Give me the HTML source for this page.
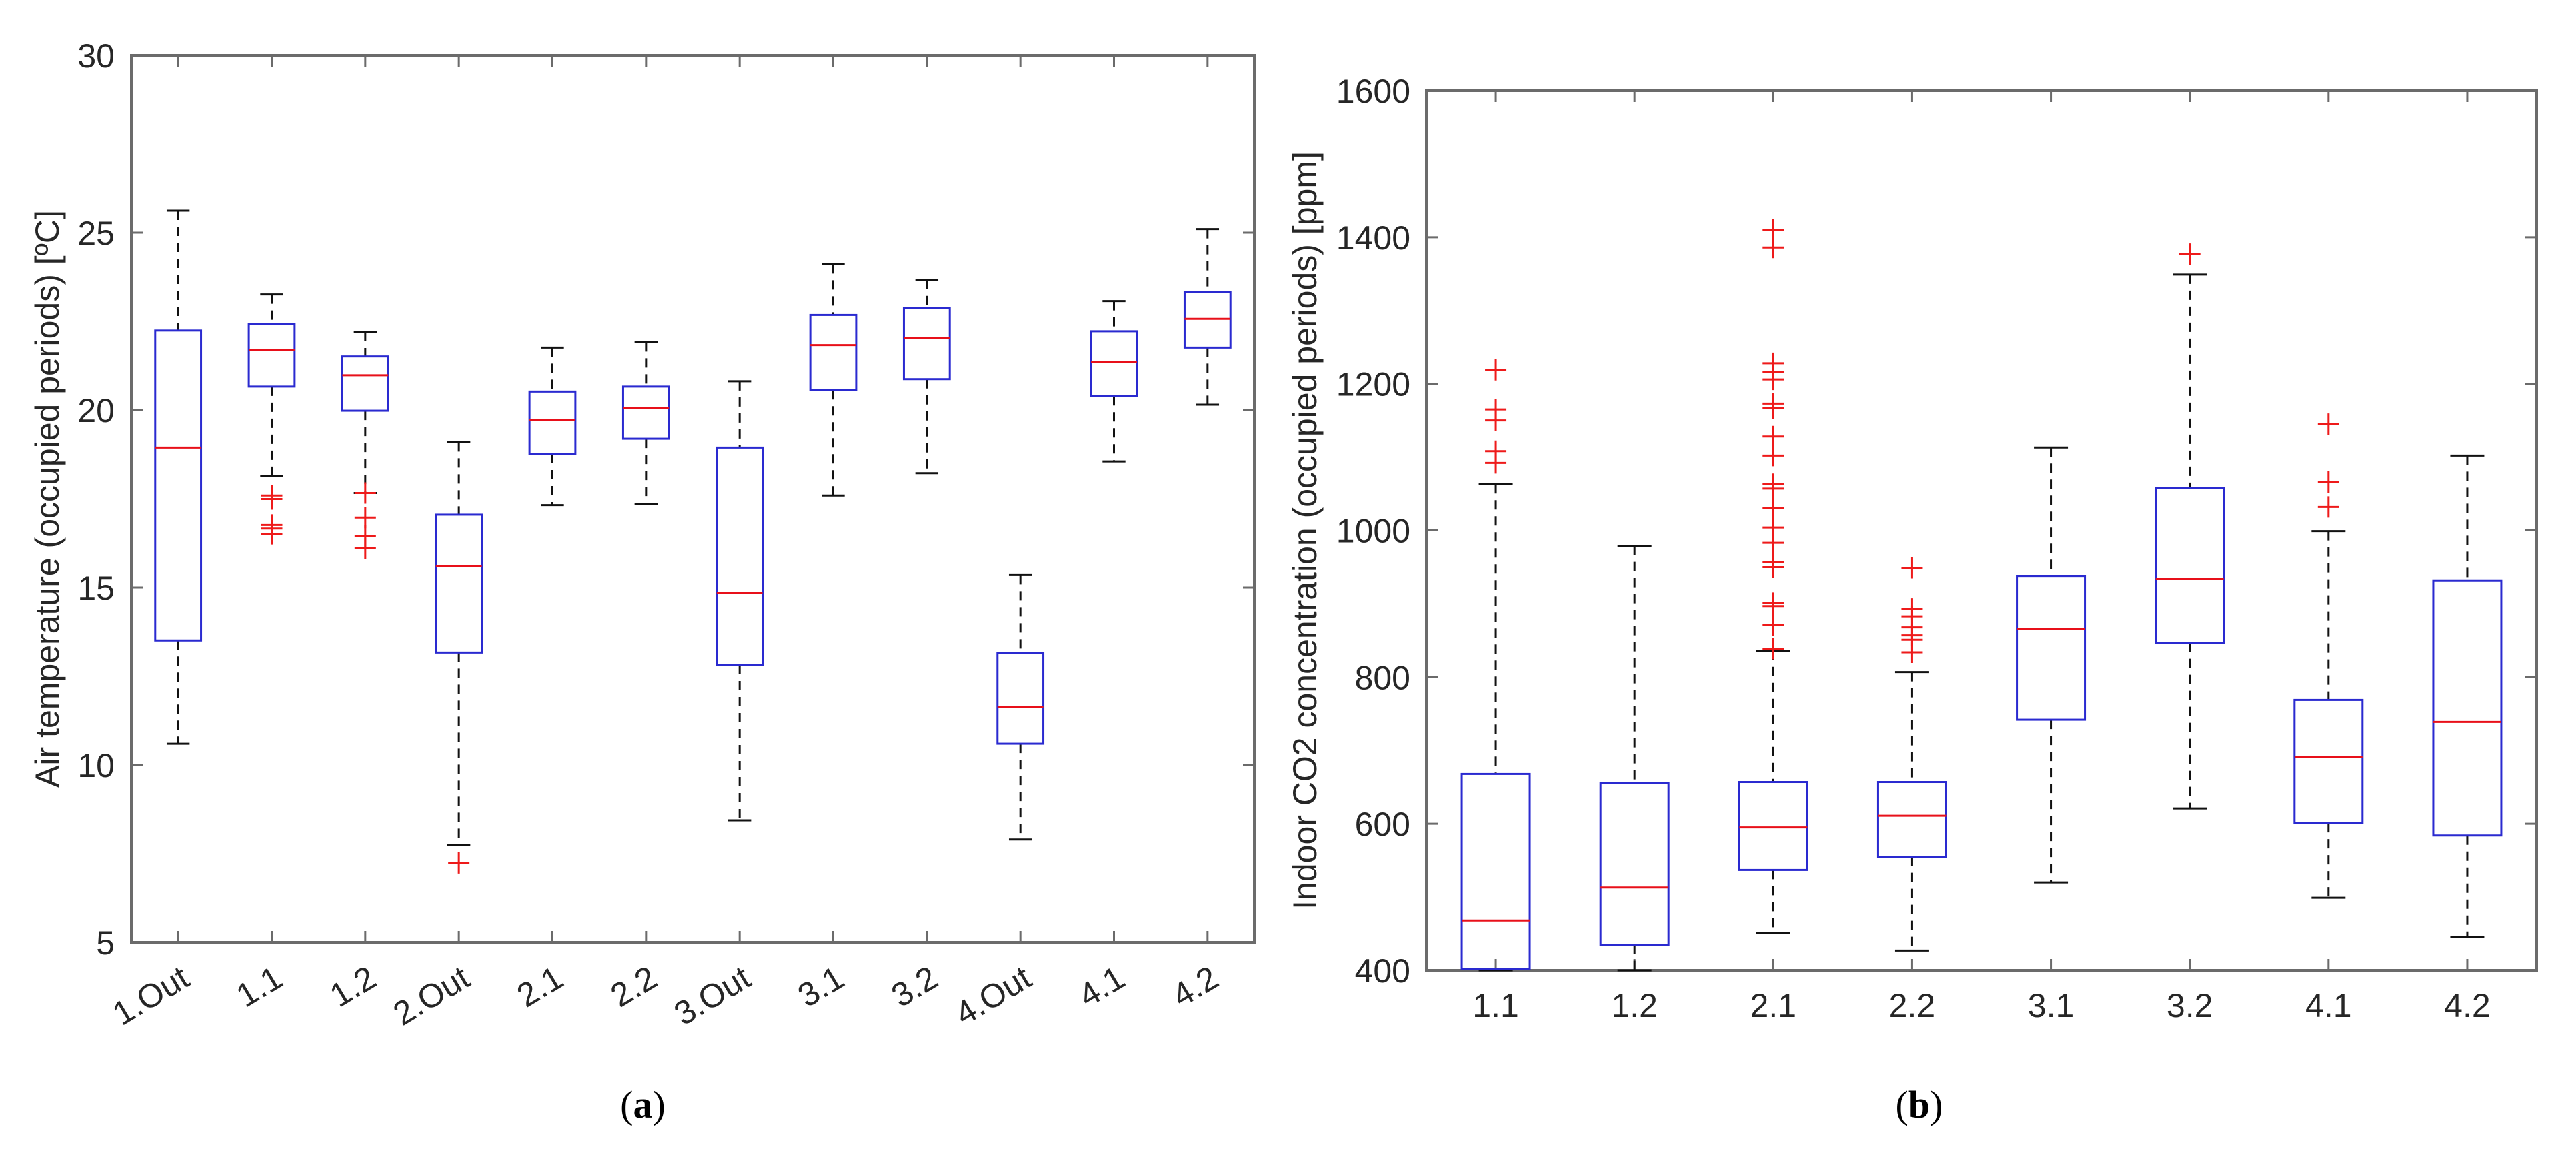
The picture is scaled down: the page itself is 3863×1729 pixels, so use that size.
<!DOCTYPE html>
<html><head><meta charset="utf-8">
<style>
html,body{margin:0;padding:0;background:#fff;}
svg{display:block;}
text{font-family:"Liberation Sans",sans-serif;fill:#262626;}
.cap{font-family:"Liberation Serif",serif;fill:#000;}
</style></head>
<body>
<svg id="chart" width="3863" height="1729" viewBox="0 0 3863 1729" xmlns="http://www.w3.org/2000/svg">
<g id="pa"></g>
<g id="pb"></g>
<text class="cap" x="964" y="1676" font-size="58" text-anchor="middle">(<tspan font-weight="bold">a</tspan>)</text>
<text class="cap" x="2878" y="1676" font-size="58" text-anchor="middle">(<tspan font-weight="bold">b</tspan>)</text>
</svg>
<script>
// Panel A data (air temperature, °C)
const catsA = ["1.Out","1.1","1.2","2.Out","2.1","2.2","3.Out","3.1","3.2","4.Out","4.1","4.2"];
const whiskHiA = [25.62,23.26,22.2,19.09,21.76,21.91,20.81,24.11,23.67,15.35,23.07,25.1];
const q3A      = [22.24,22.43,21.51,17.05,20.52,20.66,18.94,22.68,22.88,13.15,22.22,23.32];
const medA     = [18.94,21.70,20.98,15.6,19.71,20.06,14.85,21.83,22.03,11.64,21.35,22.57];
const q1A      = [13.51,20.66,19.98,13.17,18.76,19.19,12.82,20.56,20.87,10.6,20.39,21.76];
const whiskLoA = [10.6,18.13,17.66,7.74,17.32,17.34,8.44,17.59,18.22,7.9,18.55,20.15];
const outliersA = [[],[17.59,17.49,16.76,16.66,16.51],[17.66,16.97,16.45,16.1],[7.24],[],[],[],[],[],[],[],[]];
const ticksA = [5,10,15,20,25,30];

// Panel B data (CO2, ppm)
const catsB = ["1.1","1.2","2.1","2.2","3.1","3.2","4.1","4.2"];
const whiskHiB = [1063,979,836,807,1113,1349,999,1102];
const q3B      = [668,656,657,657,938,1058,769,932];
const medB     = [468,513,595,611,866,934,691,739];
const q1B      = [402,435,537,555,742,847,601,584];
const whiskLoB = [400,400,451,427,520,621,499,445];
const outliersB = [[1219,1165,1150,1108,1092],[],[1410,1386,1228,1216,1206,1173,1167,1128,1102,1063,1057,1030,1004,983,957,950,901,897,871,839],[949,893,883,868,857,851,834],[],[1377],[1145,1066,1032],[]];
const ticksB = [400,600,800,1000,1200,1400,1600];

const NS="http://www.w3.org/2000/svg";
function mk(parent,tag,attrs){const e=document.createElementNS(NS,tag);for(const k in attrs)e.setAttribute(k,attrs[k]);parent.appendChild(e);return e;}

function drawPanel(g,cfg){
  const {L,R,T,B,ymin,ymax,cats,hi,q3,med,q1,lo,outs,ticks,rot,ylabel,ylabX,labRight,xLabY}=cfg;
  const n=cats.length, step=(R-L)/n;
  const xs=i=>L+(i+0.5)*step;
  const ys=v=>B-(v-ymin)/(ymax-ymin)*(B-T);
  const bw=step*0.49, cw=bw*0.5;
  const box=mk(g,'rect',{x:L,y:T,width:R-L,height:B-T,fill:'none',stroke:'#6b6b6b','stroke-width':4});
  
  
  ticks.forEach(t=>{
    const y=ys(t);
    mk(g,'line',{x1:L,x2:L+17,y1:y,y2:y,stroke:'#6b6b6b','stroke-width':3});
    mk(g,'line',{x1:R,x2:R-17,y1:y,y2:y,stroke:'#6b6b6b','stroke-width':3});
    const tx=mk(g,'text',{x:labRight,y:y+18,'font-size':50,'text-anchor':'end'});
    tx.textContent=t;
    
    
  });
  const yl=mk(g,'text',{x:ylabX,y:(T+B)/2,'font-size':50,'text-anchor':'middle',transform:`rotate(-90 ${ylabX} ${(T+B)/2})`});
  yl.textContent=ylabel;
  
  
  cats.forEach((c,i)=>{
    const x=xs(i);
    mk(g,'line',{x1:x,x2:x,y1:B,y2:B-17,stroke:'#6b6b6b','stroke-width':3});
    mk(g,'line',{x1:x,x2:x,y1:T,y2:T+17,stroke:'#6b6b6b','stroke-width':3});
    let tl;
    if(rot){
      const ax=x+20, ay=xLabY;
      tl=mk(g,'text',{x:ax,y:ay,'font-size':50,'text-anchor':'end',transform:`rotate(-31 ${ax} ${ay})`});
    } else {
      tl=mk(g,'text',{x:x,y:xLabY,'font-size':50,'text-anchor':'middle'});
    }
    tl.textContent=c;
    
    
    const grp=mk(g,'g',{});
    
    
    mk(grp,'line',{x1:x,x2:x,y1:ys(hi[i]),y2:ys(q3[i]),stroke:'#111','stroke-width':3,'stroke-dasharray':'14 10'});
    mk(grp,'line',{x1:x,x2:x,y1:ys(q1[i]),y2:ys(lo[i]),stroke:'#111','stroke-width':3,'stroke-dasharray':'14 10'});
    mk(grp,'line',{x1:x-cw/2,x2:x+cw/2,y1:ys(hi[i]),y2:ys(hi[i]),stroke:'#111','stroke-width':3});
    mk(grp,'line',{x1:x-cw/2,x2:x+cw/2,y1:ys(lo[i]),y2:ys(lo[i]),stroke:'#111','stroke-width':3});
    mk(grp,'rect',{x:x-bw/2,y:ys(q3[i]),width:bw,height:ys(q1[i])-ys(q3[i]),fill:'none',stroke:'#2a2ad0','stroke-width':3});
    mk(grp,'line',{x1:x-bw/2,x2:x+bw/2,y1:ys(med[i]),y2:ys(med[i]),stroke:'#e8101a','stroke-width':3});
    outs[i].forEach(v=>{
      const y=ys(v);
      const p=mk(grp,'path',{d:`M${x-16} ${y}H${x+16}M${x} ${y-16}V${y+16}`,stroke:'#ee1a1a','stroke-width':3,fill:'none'});
      
      
    });
  });
}
drawPanel(document.getElementById('pa'),{L:197,R:1881,T:83,B:1413,ymin:5,ymax:30,cats:catsA,hi:whiskHiA,q3:q3A,med:medA,q1:q1A,lo:whiskLoA,outs:outliersA,ticks:ticksA,rot:true,ylabel:"Air temperature (occupied periods) [ºC]",ylabX:88,labRight:172,xLabY:1476});
drawPanel(document.getElementById('pb'),{L:2139,R:3804,T:136,B:1455,ymin:400,ymax:1600,cats:catsB,hi:whiskHiB,q3:q3B,med:medB,q1:q1B,lo:whiskLoB,outs:outliersB,ticks:ticksB,rot:false,ylabel:"Indoor CO2 concentration (occupied periods) [ppm]",ylabX:1974,labRight:2115,xLabY:1525});
</script>
</body></html>
